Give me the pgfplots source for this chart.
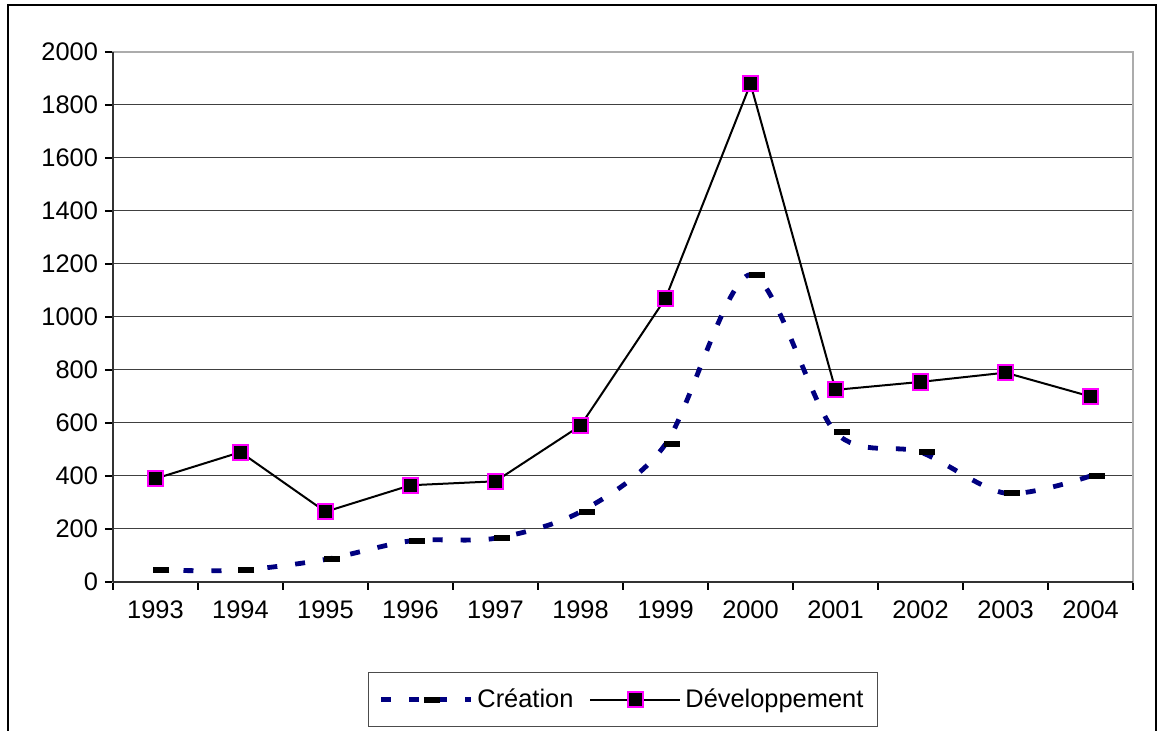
\documentclass[border=0pt]{standalone}
\usepackage{pgfplots}
\pgfplotsset{compat=1.18}
\usepackage{fontspec}
\setmainfont{Liberation Sans}
\definecolor{navyc}{RGB}{0,0,128}
\definecolor{magc}{RGB}{255,0,255}
\pgfplotsset{longlegend/.style={legend image code/.code={\draw[##1, mark repeat=2, mark phase=2] plot coordinates {(0pt,0pt)(22.5pt,0pt)(45pt,0pt)};}}}
\begin{document}
\begin{tikzpicture}
\useasboundingbox (-56.5pt,-74.5pt) rectangle (524.5pt,291pt);
\draw[line width=1.3pt] (-52.5pt,-90pt) -- (-52.5pt,288.5pt) -- (521.5pt,288.5pt) -- (521.5pt,-90pt);
\begin{axis}[
  at={(0,0)}, anchor=south west,
  scale only axis,
  width=510pt, height=265pt,
  xmin=0, xmax=12, ymin=0, ymax=2000,
  xtick={0,...,12},
  x tick label as interval,
  xticklabels={1993,1994,1995,1996,1997,1998,1999,2000,2001,2002,2003,2004},
  ytick={0,200,...,2000},
  xtick pos=bottom, ytick pos=left,
  tick align=outside,
  major tick length=4pt,
  tick style={black, line width=0.6pt},
  ymajorgrids,
  grid style={black!75, line width=0.5pt},
  axis line style={draw=gray!65, line width=1pt},
  ticklabel style={font=\fontsize{12.7}{14}\selectfont},
  xticklabel style={yshift=-2pt},
  /pgf/number format/assume math mode=true,
  /pgf/number format/1000 sep={},
  legend columns=2,
  legend style={at={(0.5,-0.17)}, anchor=north, draw=black!70, line width=0.6pt,
    font=\fontsize{12.7}{14}\selectfont, inner xsep=5pt, inner ysep=6pt,
    /tikz/every even column/.append style={column sep=6pt}},
  legend cell align=left,
  longlegend,
  clip=false,
]
\addplot[navyc, line width=2.4pt, dash pattern=on 5pt off 9pt, smooth, tension=0.5,
  mark=-, mark size=4pt, mark options={solid, black, line width=3pt, xshift=3pt}]
coordinates {
(0.5,45) (1.5,45) (2.5,85) (3.5,155) (4.5,165) (5.5,265) (6.5,520) (7.5,1160) (8.5,565) (9.5,490) (10.5,335) (11.5,400)
};
\addlegendentry{Création}
\addplot[black, line width=1pt,
  mark=square*, mark size=3.8pt, mark options={solid, draw=magc, fill=black, line width=1pt}]
coordinates {
(0.5,390) (1.5,490) (2.5,265) (3.5,365) (4.5,380) (5.5,590) (6.5,1070) (7.5,1880) (8.5,725) (9.5,755) (10.5,790) (11.5,700)
};
\addlegendentry{Développement}
\draw[black!80, line width=1pt] (rel axis cs:0,0) -- (rel axis cs:0,1);
\draw[black!80, line width=1pt] (rel axis cs:0,0) -- (rel axis cs:1,0);
\end{axis}
\end{tikzpicture}
\end{document}
